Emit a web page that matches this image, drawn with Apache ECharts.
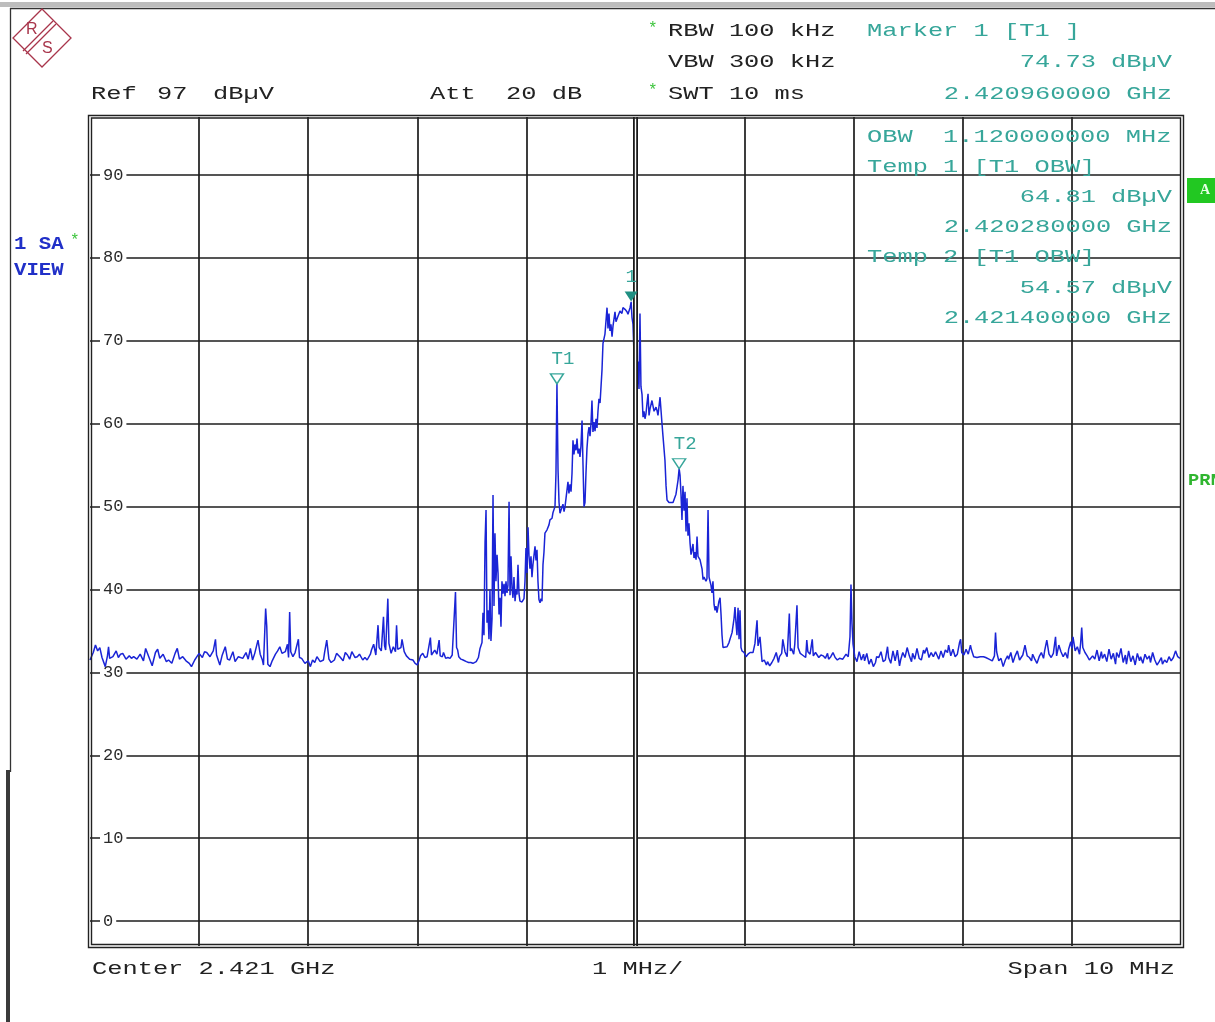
<!DOCTYPE html>
<html><head><meta charset="utf-8">
<script src="https://cdn.jsdelivr.net/npm/echarts@6/dist/echarts.min.js"></script>
<style>html,body{margin:0;padding:0;background:#fff}#c{width:1215px;height:1022px}</style>
</head><body><div id="c"></div>
<script>
// Frequency offset from start (MHz, start = 2.416 GHz) and level (dBµV)
const floorLow = [[0.00,31.5],[0.03,32.4],[0.05,33.3],[0.07,32.6],[0.09,33.0],[0.11,31.8],[0.14,30.7],[0.16,32.0],[0.17,33.1],[0.18,31.7],[0.21,31.9],[0.24,32.6],[0.26,31.8],[0.28,32.2],[0.30,32.3],[0.33,31.6],[0.36,32.0],[0.38,31.7],[0.40,31.9],[0.43,31.6],[0.46,32.2],[0.49,31.4],[0.51,32.9],[0.52,33.0],[0.55,31.5],[0.57,30.8],[0.60,32.4],[0.62,32.8],[0.64,31.7],[0.67,32.2],[0.70,31.3],[0.72,31.5],[0.75,31.1],[0.78,32.3],[0.80,32.9],[0.82,31.6],[0.85,31.9],[0.88,31.4],[0.91,31.1],[0.93,30.7],[0.96,31.5],[0.98,31.9],[1.00,32.3],[1.03,31.8],[1.05,32.5],[1.07,32.4],[1.10,31.9],[1.13,32.6],[1.15,34.0],[1.16,32.1],[1.19,30.9],[1.21,32.0],[1.24,33.1],[1.26,31.6],[1.28,31.5],[1.31,32.5],[1.33,31.3],[1.36,31.9],[1.37,32.1],[1.40,31.7],[1.43,32.4],[1.45,31.6],[1.47,32.9],[1.49,31.5],[1.51,32.3],[1.54,33.9],[1.56,32.2],[1.58,31.5],[1.59,30.9],[1.61,37.7],[1.62,35.6],[1.63,31.0],[1.65,30.7],[1.67,31.4],[1.70,32.2],[1.72,32.6],[1.74,33.1],[1.76,32.3],[1.79,32.5],[1.81,33.4],[1.82,31.8],[1.83,37.3],[1.84,32.5],[1.86,31.9],[1.88,32.4],[1.91,34.0],[1.92,31.8],[1.94,31.7],[1.97,31.1],[2.00,31.4],[2.02,30.7],[2.04,31.5],[2.06,31.2],[2.08,31.9],[2.11,31.3],[2.14,31.5],[2.15,32.4],[2.17,33.9],[2.19,31.6],[2.21,31.2],[2.24,31.5],[2.26,32.3],[2.29,31.9],[2.32,31.4],[2.34,32.4],[2.36,32.1],[2.38,31.6],[2.40,32.5],[2.43,31.8],[2.45,31.9],[2.47,32.2],[2.50,31.5],[2.52,31.8],[2.54,31.5],[2.57,32.2],[2.58,32.7],[2.60,33.4],[2.62,32.1],[2.64,35.7],[2.65,33.0],[2.67,32.6],[2.69,36.7],[2.70,33.2],[2.71,32.7],[2.73,38.9],[2.74,33.5],[2.76,32.3],[2.78,33.1],[2.80,32.5],[2.81,35.7],[2.82,32.8],[2.83,32.7],[2.85,33.0],[2.86,34.0],[2.88,32.5],[2.90,32.0],[2.91,32.1],[2.93,31.6],[2.96,31.5],[2.98,31.1],[3.00,30.9],[3.02,31.6],[3.03,32.0],[3.05,32.3],[3.07,31.8],[3.09,31.9],[3.12,34.2],[3.13,32.1],[3.14,31.9],[3.16,32.7],[3.18,32.2],[3.20,33.9],[3.21,32.0],[3.23,31.9],[3.24,32.4],[3.26,31.7],[3.28,31.8],[3.30,31.7],[3.32,32.1],[3.35,39.7],[3.36,33.0],[3.37,32.7],[3.38,31.9],[3.40,31.6],[3.42,31.5],[3.45,31.3],[3.47,31.2],[3.49,31.2],[3.51,31.1],[3.54,31.3],[3.56,31.8]];

const signalBand = [[3.575,32.9],[3.593,33.6],[3.602,37.2],[3.611,34.5],[3.621,45.7],[3.630,49.6],[3.639,36.0],[3.648,37.5],[3.657,34.0],[3.666,40.0],[3.675,33.8],[3.685,36.5],[3.694,51.4],[3.703,38.0],[3.712,46.8],[3.721,41.0],[3.731,44.2],[3.740,42.0],[3.749,37.0],[3.758,39.0],[3.767,35.5],[3.776,41.0],[3.786,39.5],[3.795,40.7],[3.804,39.2],[3.813,41.0],[3.822,39.6],[3.831,40.5],[3.841,50.6],[3.850,39.3],[3.859,44.0],[3.868,40.2],[3.877,39.0],[3.886,41.5],[3.896,38.6],[3.905,40.0],[3.914,39.4],[3.923,43.0],[3.932,39.5],[3.941,38.6],[3.960,38.5],[3.978,38.9],[3.987,41.0],[3.996,45.0],[4.005,42.0],[4.015,47.5],[4.024,44.0],[4.033,42.5],[4.042,44.0],[4.051,41.5],[4.060,43.0],[4.079,45.2],[4.088,43.5],[4.097,44.8],[4.106,41.0],[4.115,38.8],[4.125,38.4],[4.134,38.9],[4.143,38.6],[4.152,43.0],[4.161,44.5],[4.170,46.8],[4.189,47.2],[4.207,47.8],[4.216,48.4],[4.235,48.6],[4.244,49.3],[4.262,50.0],[4.271,54.0],[4.280,64.8],[4.290,54.4],[4.299,50.5],[4.308,49.2],[4.317,49.0],[4.326,49.4],[4.335,50.3],[4.345,49.4],[4.354,50.0],[4.363,51.0],[4.372,52.0],[4.381,53.0],[4.390,51.6],[4.400,52.7],[4.409,51.8],[4.418,54.0],[4.427,58.0],[4.436,56.3],[4.445,57.5],[4.455,56.8],[4.464,58.2],[4.473,56.4],[4.482,57.0],[4.491,56.0],[4.500,57.3],[4.510,60.4],[4.519,55.0],[4.528,50.0],[4.537,50.5],[4.546,54.0],[4.555,57.0],[4.565,58.8],[4.574,59.6],[4.583,58.5],[4.592,60.0],[4.601,62.8],[4.610,59.0],[4.620,60.2],[4.629,59.1],[4.638,60.6],[4.647,59.5],[4.656,61.5],[4.665,63.0],[4.675,62.5],[4.684,64.5],[4.693,66.5],[4.702,69.7],[4.720,70.8],[4.739,74.0],[4.748,71.5],[4.757,73.3],[4.766,71.2],[4.775,72.0],[4.785,70.5],[4.794,71.8],[4.812,73.5],[4.821,72.3],[4.840,73.0],[4.858,73.6],[4.876,73.3],[4.885,74.0],[4.904,73.8],[4.922,73.5],[4.931,73.2],[4.950,74.0],[4.960,74.7],[4.968,72.8],[4.977,72.0],[4.986,68.5],[4.995,66.0],[5.005,71.0],[5.014,64.0],[5.023,67.5],[5.032,64.2],[5.041,73.3],[5.050,64.5],[5.060,63.5],[5.069,60.8],[5.078,61.5],[5.087,60.6],[5.096,61.2],[5.105,62.4],[5.115,63.6],[5.124,61.0],[5.133,61.8],[5.151,62.8],[5.170,61.5],[5.188,62.0],[5.197,61.6],[5.206,61.0],[5.225,63.2],[5.234,61.6],[5.243,60.0],[5.252,58.5],[5.270,55.6],[5.280,52.5],[5.289,50.8],[5.307,50.5],[5.325,50.4],[5.344,50.5],[5.362,50.6],[5.371,51.5],[5.390,53.2],[5.400,54.6],[5.408,53.8],[5.417,51.5],[5.426,48.4],[5.435,52.5],[5.445,49.5],[5.454,51.8],[5.463,47.0],[5.472,51.0],[5.481,46.5],[5.490,48.0],[5.500,45.6],[5.509,44.2],[5.518,44.8],[5.527,45.5],[5.536,43.8],[5.545,44.5],[5.555,43.6],[5.564,46.4],[5.573,44.0],[5.582,43.8],[5.591,43.6],[5.610,42.5],[5.619,41.2],[5.628,41.5],[5.646,41.0],[5.655,41.3],[5.665,49.6],[5.674,41.5],[5.683,41.0],[5.692,40.5],[5.701,39.6],[5.710,41.0],[5.720,38.2],[5.729,37.5],[5.738,38.0],[5.747,37.2],[5.756,37.0],[5.765,38.6],[5.775,39.0],[5.784,37.0],[5.793,34.5],[5.802,33.0],[5.820,32.8],[5.839,33.1],[5.857,33.6],[5.866,34.0],[5.885,34.8],[5.903,36.5],[5.912,37.9],[5.921,36.0],[5.930,34.5],[5.940,37.8],[5.949,34.0],[5.958,37.5],[5.967,33.0],[5.976,32.6],[5.985,32.7],[5.995,32.4],[6.013,31.9],[6.031,32.2],[6.050,32.4],[6.068,32.6],[6.077,32.4],[6.095,33.5],[6.114,36.3],[6.123,33.2],[6.141,34.3]];

const floorHigh = [[6.16,31.3],[6.18,31.5],[6.20,30.9],[6.21,31.3],[6.23,30.8],[6.25,31.2],[6.27,31.7],[6.29,32.4],[6.31,31.2],[6.32,31.9],[6.34,32.3],[6.35,34.0],[6.37,32.5],[6.39,31.9],[6.41,37.1],[6.42,32.6],[6.43,32.9],[6.45,32.2],[6.46,33.4],[6.48,38.1],[6.49,33.0],[6.51,32.3],[6.53,32.1],[6.54,32.0],[6.56,31.8],[6.57,33.9],[6.58,32.5],[6.60,32.2],[6.62,34.0],[6.63,32.0],[6.65,32.4],[6.66,32.2],[6.68,31.8],[6.70,32.1],[6.72,32.0],[6.74,31.7],[6.76,32.3],[6.77,31.6],[6.79,31.9],[6.81,32.4],[6.83,31.8],[6.85,31.5],[6.87,31.7],[6.90,31.6],[6.93,32.2],[6.95,31.9],[6.966,34.3],[6.975,40.6],[6.984,36.0],[6.994,33.4],[7.01,31.9],[7.03,31.3],[7.05,32.5],[7.07,31.5],[7.09,32.2],[7.10,31.4],[7.12,32.3],[7.14,31.0],[7.16,31.6],[7.18,30.7],[7.20,31.2],[7.21,31.9],[7.23,31.8],[7.25,32.5],[7.27,31.3],[7.29,31.5],[7.31,33.1],[7.32,31.8],[7.34,31.1],[7.36,32.6],[7.38,31.4],[7.40,32.7],[7.42,30.8],[7.43,31.5],[7.45,32.4],[7.47,31.8],[7.49,33.0],[7.51,32.0],[7.53,31.3],[7.54,32.3],[7.56,31.6],[7.58,32.9],[7.60,31.7],[7.62,31.5],[7.64,32.7],[7.65,32.3],[7.67,33.0],[7.69,31.8],[7.71,32.4],[7.73,31.9],[7.75,32.5],[7.76,32.2],[7.78,31.6],[7.80,32.6],[7.82,31.8],[7.84,32.7],[7.86,32.4],[7.87,33.3],[7.89,32.0],[7.91,32.8],[7.93,31.9],[7.95,32.2],[7.97,33.6],[7.98,34.0],[7.99,32.4],[8.01,32.1],[8.03,32.8],[8.05,32.2],[8.07,33.3],[8.08,32.7],[8.10,31.9],[8.13,31.8],[8.16,31.9],[8.19,31.9],[8.21,31.8],[8.24,31.6],[8.27,31.4],[8.29,32.0],[8.30,34.8],[8.31,32.5],[8.33,31.4],[8.35,31.7],[8.37,30.7],[8.39,31.5],[8.41,32.0],[8.42,31.6],[8.44,32.4],[8.46,31.2],[8.48,32.0],[8.50,32.6],[8.52,31.5],[8.53,31.3],[8.55,32.1],[8.57,33.3],[8.59,32.0],[8.61,31.8],[8.63,31.4],[8.64,32.2],[8.66,31.6],[8.68,31.1],[8.70,31.9],[8.72,32.4],[8.74,31.7],[8.75,32.6],[8.77,33.9],[8.79,32.2],[8.81,31.8],[8.83,32.3],[8.85,34.3],[8.86,32.0],[8.88,33.3],[8.90,32.5],[8.92,31.9],[8.94,32.4],[8.96,31.7],[8.97,32.8],[8.99,33.7],[9.00,32.9],[9.01,34.3],[9.03,32.6],[9.05,33.1],[9.07,32.2],[9.08,33.5],[9.09,35.4],[9.10,33.0],[9.12,32.4],[9.14,32.0],[9.16,31.5],[9.17,31.3],[9.19,32.0],[9.21,31.6],[9.23,32.7],[9.25,31.4],[9.27,32.5],[9.28,31.7],[9.30,32.2],[9.32,31.3],[9.34,32.8],[9.36,31.6],[9.38,32.3],[9.40,31.0],[9.41,32.4],[9.43,31.8],[9.45,32.9],[9.47,31.2],[9.49,32.1],[9.50,31.0],[9.52,32.6],[9.54,31.3],[9.56,32.0],[9.58,30.9],[9.60,32.3],[9.62,31.4],[9.63,31.9],[9.65,31.1],[9.67,32.2],[9.69,31.6],[9.71,32.0],[9.72,31.2],[9.74,32.4],[9.76,31.5],[9.78,30.9],[9.80,31.3],[9.82,31.8],[9.83,31.0],[9.85,31.5],[9.87,31.2],[9.89,31.9],[9.91,31.4],[9.93,31.8],[9.95,32.6],[9.97,31.9],[9.99,31.7]];

const yTickValues = [0, 10, 20, 30, 40, 50, 60, 70, 80, 90];
const startGHz = 2.416;
const centerOffsetMHz = 5;
const markerNames = ['1', 'T1', 'T2'];
const markerFreqGHz = [2.42096, 2.42028, 2.4214];
const markerLevel = [74.73, 64.81, 54.57];
const obwMHz = 1.12;

const trace = floorLow.concat(signalBand, floorHigh);
const toOffset = g => (g - startGHz) * 1000;

const TEAL = '#37a69a';
const TEAL_DARK = '#1f8f82';
const GREEN = '#3cc43c';
const BLUE = '#2130c8';
const INK = '#222';
const LOGO = '#a8354b';
const MONO = '"Liberation Mono", "Courier New", monospace';

function T(x, y, text, fill, o) {
  o = o || {};
  const align = o.align || 'left';
  return {
    type: 'text', x: x, y: y, z: 100, silent: true,
    scaleX: o.sx === undefined ? 1.335 : o.sx,
    style: {
      text: text, fill: fill,
      fontFamily: o.family || MONO, fontSize: o.size || 19, fontWeight: o.weight || 'normal',
      align: align, verticalAlign: 'middle', textAlign: align, textVerticalAlign: 'middle'
    }
  };
}

const fmtLevel = v => v.toFixed(2) + ' dBµV';
const fmtFreq = g => g.toFixed(9) + ' GHz';

const graphics = [
  // window frame
  {type: 'rect', shape: {x: 0, y: 2, width: 1215, height: 5}, style: {fill: '#bdbdbd'}, silent: true},
  {type: 'line', shape: {x1: 10, y1: 8.5, x2: 1215, y2: 8.5}, style: {stroke: '#333', lineWidth: 1.5}, silent: true},
  {type: 'line', shape: {x1: 10.5, y1: 8, x2: 10.5, y2: 772}, style: {stroke: '#333', lineWidth: 1.3}, silent: true},
  {type: 'rect', shape: {x: 6, y: 770, width: 4, height: 252}, style: {fill: '#3a3a3a'}, silent: true},
  // plot double frame
  {type: 'rect', shape: {x: 88.5, y: 115.5, width: 1095, height: 832}, style: {fill: null, stroke: '#222', lineWidth: 1.4}, silent: true, z: 50},
  {type: 'rect', shape: {x: 91.5, y: 118, width: 1089, height: 826.5}, style: {fill: null, stroke: '#222', lineWidth: 1.4}, silent: true, z: 50},
  // R&S logo
  {type: 'polygon', shape: {points: [[42, 9], [71, 38], [42, 67], [13, 38]]}, style: {fill: null, stroke: LOGO, lineWidth: 1.3}, silent: true},
  {type: 'line', shape: {x1: 23, y1: 51, x2: 53, y2: 21}, style: {stroke: LOGO, lineWidth: 1.3}, silent: true},
  {type: 'line', shape: {x1: 26, y1: 54, x2: 56, y2: 24}, style: {stroke: LOGO, lineWidth: 1.3}, silent: true},
  T(26, 30, 'R', LOGO, {sx: 1, size: 16, family: '"Liberation Sans", sans-serif'}),
  T(42, 49, 'S', LOGO, {sx: 1, size: 16, family: '"Liberation Sans", sans-serif'}),
  // header
  T(91, 94, 'Ref', INK), T(157, 94, '97', INK), T(213, 94, 'dBµV', INK),
  T(430, 94, 'Att  20 dB', INK),
  T(648, 29, '*', GREEN, {sx: 1, size: 16}), T(668, 31, 'RBW 100 kHz', INK),
  T(668, 62, 'VBW 300 kHz', INK),
  T(648, 91, '*', GREEN, {sx: 1, size: 16}), T(668, 94, 'SWT 10 ms', INK),
  T(867, 31, 'Marker ' + markerNames[0] + ' [T1 ]', TEAL),
  T(1172, 62, fmtLevel(markerLevel[0]), TEAL, {align: 'right'}),
  T(1172, 94, fmtFreq(markerFreqGHz[0]), TEAL, {align: 'right'}),
  // OBW block inside plot
  T(867, 137, 'OBW  ' + obwMHz.toFixed(9) + ' MHz', TEAL),
  T(867, 167, 'Temp 1 [T1 OBW]', TEAL),
  T(1172, 197, fmtLevel(markerLevel[1]), TEAL, {align: 'right'}),
  T(1172, 227, fmtFreq(markerFreqGHz[1]), TEAL, {align: 'right'}),
  T(867, 257, 'Temp 2 [T1 OBW]', TEAL),
  T(1172, 288, fmtLevel(markerLevel[2]), TEAL, {align: 'right'}),
  T(1172, 318, fmtFreq(markerFreqGHz[2]), TEAL, {align: 'right'}),
  // footer
  T(92, 969, 'Center 2.421 GHz', INK),
  T(592, 969, '1 MHz/', INK),
  T(1175, 969, 'Span 10 MHz', INK, {align: 'right'}),
  // left side labels
  T(14, 244, '1 SA', BLUE, {sx: 1.15, size: 18, weight: 'bold'}),
  T(70, 241, '*', GREEN, {sx: 1, size: 16}),
  T(14, 270, 'VIEW', BLUE, {sx: 1.15, size: 18, weight: 'bold'}),
  // right side flags
  {type: 'rect', shape: {x: 1187, y: 178, width: 30, height: 25}, style: {fill: '#22c822'}, silent: true},
  T(1205, 190, 'A', '#e6ffe6', {sx: 1, size: 14, weight: 'bold', family: 'serif', align: 'center'}),
  T(1188, 481, 'PRN', '#2fb52f', {sx: 1.1, size: 17, weight: 'bold'})
];

const markPointData = markerNames.map((n, i) => ({
  name: n,
  coord: [toOffset(markerFreqGHz[i]), markerLevel[i]],
  symbol: 'path://M0 0L12 0L6 10Z',
  symbolSize: [13, 10],
  symbolOffset: [0, -5],
  itemStyle: i === 0 ? {color: TEAL_DARK} : {color: '#fff', borderColor: TEAL, borderWidth: 1.4},
  label: {
    show: true, formatter: n, position: 'top', distance: 5,
    offset: i === 0 ? [0, 0] : [6, 0],
    color: TEAL, fontFamily: MONO, fontSize: 19
  }
}));

const chart = echarts.init(document.getElementById('c'), null, {renderer: 'canvas'});
chart.setOption({
  animation: false,
  backgroundColor: '#fff',
  grid: {left: 90, right: 34, top: 117, bottom: 76, show: false, outerBoundsMode: 'none', containLabel: false},
  xAxis: {
    type: 'value', min: 0, max: 10, interval: 1,
    axisLine: {show: false}, axisTick: {show: false}, axisLabel: {show: false},
    splitLine: {show: true, showMinLine: false, showMaxLine: false, lineStyle: {color: '#1c1c1c', width: 1.7}}
  },
  yAxis: {
    type: 'value', min: -3, max: 97,
    axisLine: {show: false},
    axisTick: {show: false, customValues: yTickValues},
    axisLabel: {
      show: true, inside: true, customValues: yTickValues, margin: 10,
      color: '#2a2a2a', fontFamily: MONO, fontSize: 17,
      backgroundColor: '#fff', padding: [0, 3]
    },
    splitLine: {show: true, lineStyle: {color: '#1c1c1c', width: 1.7}}
  },
  graphic: graphics,
  series: [
    {
      type: 'line', data: [], z: 1, silent: true,
      markLine: {
        silent: true, symbol: 'none', label: {show: false}, animation: false,
        data: [
          {xAxis: centerOffsetMHz, lineStyle: {color: '#1c1c1c', width: 5, type: 'solid'}},
          {xAxis: centerOffsetMHz, lineStyle: {color: '#fff', width: 1.4, type: 'solid'}}
        ]
      }
    },
    {
      type: 'line', data: trace, z: 3, showSymbol: false, symbol: 'none', silent: true,
      lineStyle: {color: '#1a24d6', width: 1.5},
      markPoint: {silent: true, animation: false, data: markPointData}
    }
  ]
});
</script>
</body></html>
